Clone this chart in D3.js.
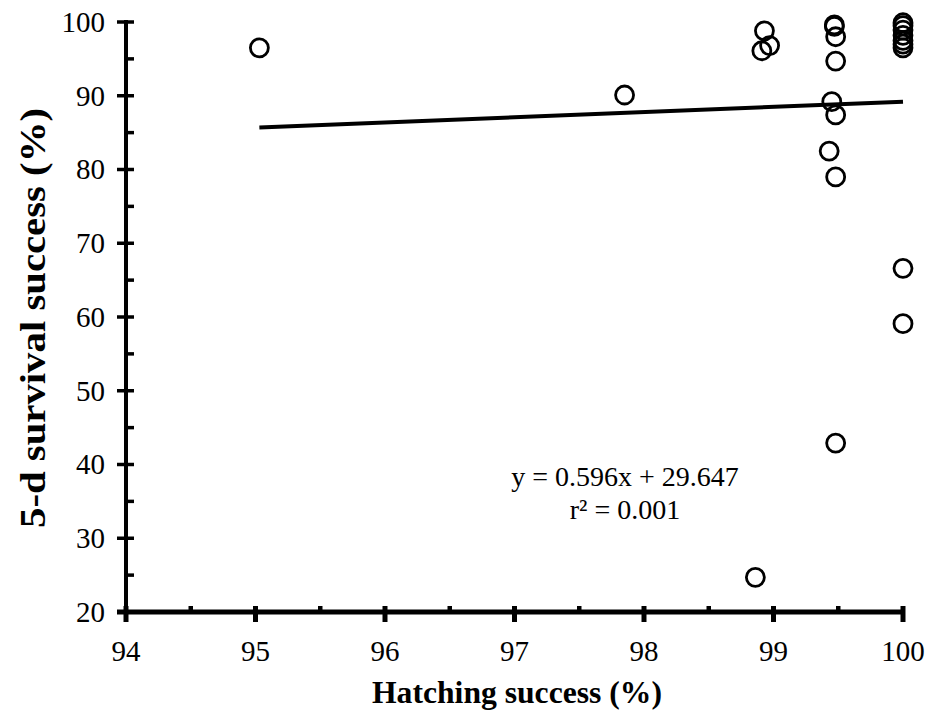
<!DOCTYPE html>
<html>
<head>
<meta charset="utf-8">
<script src="https://cdn.jsdelivr.net/npm/d3@7"></script>
<style>
  body { margin: 0; background: #fff; }
  svg { display: block; }
  text { font-family: "Liberation Serif", "Times New Roman", serif; fill: #000; }
</style>
</head>
<body>
<div id="chart"></div>
<script>
// hatching success (%) vs 5-d survival success (%)
var hatch = [95.03, 97.85, 98.93, 98.91, 98.97, 98.86,
    99.47, 99.47, 99.48, 99.48, 99.45, 99.48, 99.43, 99.48, 99.48,
    100, 100, 100, 100, 100, 100, 100, 100, 100]
var survival = [96.5, 90.1, 98.8, 96.1, 96.8, 24.7,
    99.6, 99.4, 98.0, 94.7, 89.2, 87.4, 82.5, 79.0, 42.9,
    99.9, 99.5, 98.9, 98.2, 97.5, 97.0, 96.5, 66.6, 59.1]

// fitted line ends as drawn
var trendX = [95.03, 100]
var trendY = [85.7, 89.2]

var xMajor = [94, 95, 96, 97, 98, 99, 100]
var xMinor = [94.5, 95.5, 96.5, 97.5, 98.5, 99.5]
var yMajor = [20, 30, 40, 50, 60, 70, 80, 90, 100]
var yMinor = [25, 35, 45, 55, 65, 75, 85, 95]

var equation = ["y = 0.596x + 29.647", "r\u00b2 = 0.001"]

var width = 931, height = 715

var svg = d3.select("#chart").append("svg")
    .attr("width", width)
    .attr("height", height)

var x = d3.scaleLinear().domain([94, 100]).range([126, 903])
var y = d3.scaleLinear().domain([20, 100]).range([612, 22])

// y axis
var gy = svg.append("g")
gy.append("line")
    .attr("x1", x(94)).attr("x2", x(94))
    .attr("y1", y(100) - 2).attr("y2", y(20) + 2)
    .attr("stroke", "#000").attr("stroke-width", 4)
gy.selectAll("line.major").data(yMajor).enter().append("line")
    .attr("class", "major")
    .attr("x1", x(94) - 9).attr("x2", x(94) + 8)
    .attr("y1", function(d) { return y(d) }).attr("y2", function(d) { return y(d) })
    .attr("stroke", "#000").attr("stroke-width", 3.5)
gy.selectAll("line.minor").data(yMinor).enter().append("line")
    .attr("class", "minor")
    .attr("x1", x(94)).attr("x2", x(94) + 8)
    .attr("y1", function(d) { return y(d) }).attr("y2", function(d) { return y(d) })
    .attr("stroke", "#000").attr("stroke-width", 3.5)
gy.selectAll("text").data(yMajor).enter().append("text")
    .attr("x", x(94) - 21)
    .attr("y", function(d) { return y(d) })
    .attr("dy", "0.34em")
    .attr("text-anchor", "end")
    .style("font-size", "29px")
    .text(function(d) { return d })

// x axis
var gx = svg.append("g")
gx.append("line")
    .attr("x1", x(94) - 9).attr("x2", x(100) + 2)
    .attr("y1", y(20)).attr("y2", y(20))
    .attr("stroke", "#000").attr("stroke-width", 5)
gx.selectAll("line.major").data(xMajor).enter().append("line")
    .attr("class", "major")
    .attr("x1", function(d) { return x(d) }).attr("x2", function(d) { return x(d) })
    .attr("y1", y(20) - 6).attr("y2", y(20) + 10)
    .attr("stroke", "#000").attr("stroke-width", 5)
gx.selectAll("line.minor").data(xMinor).enter().append("line")
    .attr("class", "minor")
    .attr("x1", function(d) { return x(d) }).attr("x2", function(d) { return x(d) })
    .attr("y1", y(20) - 6).attr("y2", y(20))
    .attr("stroke", "#000").attr("stroke-width", 4.5)
gx.selectAll("text").data(xMajor).enter().append("text")
    .attr("x", function(d) { return x(d) })
    .attr("y", 661)
    .attr("text-anchor", "middle")
    .style("font-size", "29px")
    .text(function(d) { return d })

// axis titles
svg.append("text")
    .attr("x", 517)
    .attr("y", 703)
    .attr("text-anchor", "middle")
    .attr("textLength", 290)
    .attr("lengthAdjust", "spacingAndGlyphs")
    .style("font-size", "31px")
    .style("font-weight", "bold")
    .text("Hatching success (%)")

svg.append("text")
    .attr("transform", "translate(45,318) rotate(-90)")
    .attr("text-anchor", "middle")
    .attr("textLength", 420)
    .attr("lengthAdjust", "spacingAndGlyphs")
    .style("font-size", "35px")
    .style("font-weight", "bold")
    .text("5-d survival success (%)")

// trend line
svg.append("line")
    .attr("x1", x(trendX[0])).attr("y1", y(trendY[0]))
    .attr("x2", x(trendX[1])).attr("y2", y(trendY[1]))
    .attr("stroke", "#000").attr("stroke-width", 4)

// points
var pts = hatch.map(function(h, i) { return { h: h, s: survival[i] } })
svg.append("g").selectAll("circle").data(pts).enter().append("circle")
    .attr("cx", function(d) { return x(d.h) })
    .attr("cy", function(d) { return y(d.s) })
    .attr("r", 9)
    .attr("fill", "none")
    .attr("stroke", "#000")
    .attr("stroke-width", 2.8)

// equation
svg.append("g").selectAll("text").data(equation).enter().append("text")
    .attr("x", 625)
    .attr("y", function(d, i) { return 486 + i * 33 })
    .attr("text-anchor", "middle")
    .style("font-size", "28px")
    .text(function(d) { return d })
</script>
</body>
</html>
